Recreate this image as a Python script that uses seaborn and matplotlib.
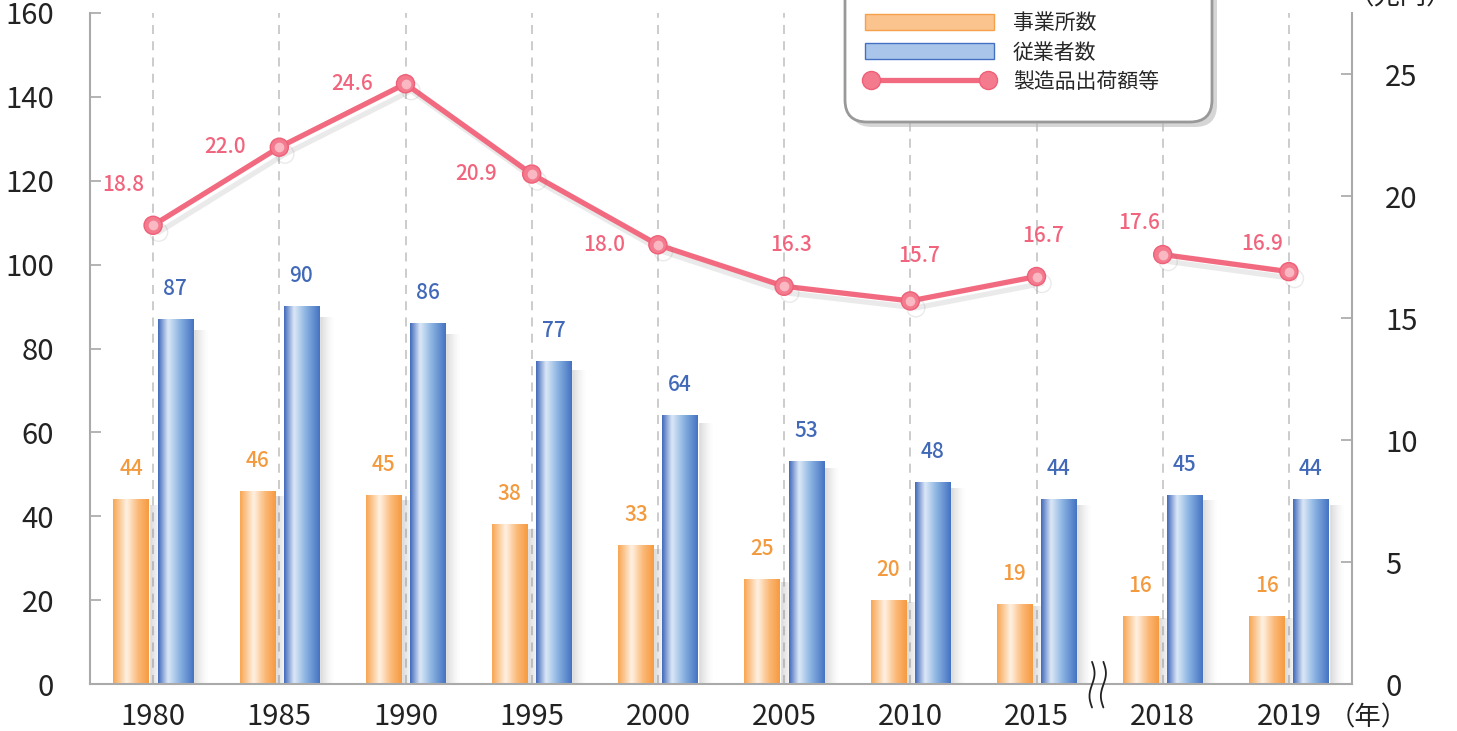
import numpy as np
import pandas as pd
import seaborn as sns
import matplotlib.pyplot as plt
import matplotlib.patheffects as pe
from matplotlib.colors import LinearSegmentedColormap
from matplotlib.patches import Patch, FancyBboxPatch
from matplotlib.lines import Line2D
import matplotlib.transforms as mtransforms

# data
years = ['1980', '1985', '1990', '1995', '2000', '2005', '2010', '2015', '2018', '2019']
establishments = [44, 46, 45, 38, 33, 25, 20, 19, 16, 16]   # 事業所数
employees = [87, 90, 86, 77, 64, 53, 48, 44, 45, 44]        # 従業者数
shipments = [18.8, 22.0, 24.6, 20.9, 18.0, 16.3, 15.7, 16.7, 17.6, 16.9]  # 製造品出荷額等 (兆円)
segment = ['a'] * 8 + ['b'] * 2   # line is broken between 2015 and 2018

series_names = ['事業所数', '従業者数', '製造品出荷額等']

# label offsets for the line values (pixels)
line_label_offsets = [(-30, 40), (-54, 0), (-53, 0), (-56, 0), (-54, 0),
                      (7, 41), (9, 45), (7, 41), (-24, 32), (-27, 28)]

orange = '#F7A04A'
blue = '#4470C2'
pink = '#F26A80'

sns.set_theme(style='white')
plt.rcParams['font.family'] = ['Noto Sans CJK JP', 'DejaVu Sans']

fig = plt.figure(figsize=(14.57, 7.31), dpi=100)
ax = fig.add_axes([90 / 1457, 1 - 684 / 731, (1352 - 90) / 1457, (684 - 13) / 731])

bar_df = pd.DataFrame({
    'year': years * 2,
    'value': establishments + employees,
    'series': [series_names[0]] * len(years) + [series_names[1]] * len(years),
})
sns.barplot(data=bar_df, x='year', y='value', hue='series', palette=[orange, blue],
            width=0.7, gap=0.2, saturation=1, legend=False, ax=ax, zorder=2)

# gradient fill on each bar + soft shadow on the right
cmaps = [
    LinearSegmentedColormap.from_list('o', [(0, '#F8A550'), (0.38, '#FFF1E3'), (0.7, '#FBB978'), (1, '#F79A40')]),
    LinearSegmentedColormap.from_list('b', [(0, '#4068BA'), (0.28, '#DCE8F7'), (0.6, '#8CB4E2'), (1, '#4472C2')]),
]
grad = np.linspace(0, 1, 256)[None, :]
shadow = np.zeros((1, 64, 4))
shadow[..., :3] = 0.45
shadow[..., 3] = np.linspace(0.45, 0, 64) ** 1.5
for cont, cmap in zip(ax.containers, cmaps):
    for p in cont:
        x0, w, h = p.get_x(), p.get_width(), p.get_height()
        ax.imshow(shadow, extent=(x0 + w, x0 + w + 0.12, 0, h * 0.97), aspect='auto',
                  interpolation='bicubic', zorder=1.5)
        ax.imshow(grad, extent=(x0, x0 + w, 0, h), aspect='auto', cmap=cmap,
                  interpolation='bicubic', zorder=2.5)

label_colors = ['#F39A3E', '#4169B8']
for cont, c in zip(ax.containers, label_colors):
    ax.bar_label(cont, padding=14, color=c, fontsize=15, fontweight='medium')

pos = np.arange(len(years))
ax.vlines(pos, 0, 160, colors='#c8c8c8', linestyles=(0, (5, 4)), linewidth=1.3, zorder=1)

ax.set_xlim(-0.5, 9.5)
ax.set_ylim(0, 160)
ax.set_yticks(range(0, 161, 20))
ax.set_xlabel('')
ax.set_ylabel('')
ax.tick_params(axis='y', direction='in', length=8, color='#aaaaaa', pad=26, labelsize=21, labelcolor='#222222')
ax.tick_params(axis='x', length=0, pad=13, labelsize=21, labelcolor='#222222')
for s in ['top', 'right']:
    ax.spines[s].set_visible(False)
for s in ['left', 'bottom']:
    ax.spines[s].set_color('#aaaaaa')
    ax.spines[s].set_linewidth(1.5)

# line on the right axis
ax2 = ax.twinx()
line_df = pd.DataFrame({'pos': pos, 'value': shipments, 'segment': segment})
sns.lineplot(data=line_df, x='pos', y='value', units='segment', estimator=None, color=pink,
             linewidth=3.8, marker='o', markersize=13, markerfacecolor='#F47A8E',
             markeredgecolor='#EE6078', markeredgewidth=1.0, ax=ax2, zorder=5,
             path_effects=[pe.SimpleLineShadow(offset=(4, -5), shadow_color='#777777', alpha=0.15), pe.Normal()])
ax2.plot(pos, shipments, 'o', ms=6, color='#FAB8C3', zorder=6)
for x, v, (dx, dy) in zip(pos, shipments, line_label_offsets):
    ax2.annotate(f'{v:.1f}', xy=(x, v), xytext=(dx, dy), textcoords='offset pixels',
                 ha='center', va='center', color='#F0657D', fontsize=15, fontweight='medium')

ax2.set_ylim(0, 27.5)
ax2.set_yticks(range(0, 26, 5))
ax2.set_xlim(-0.5, 9.5)
ax2.set_ylabel('')
ax2.set_xlabel('')
ax2.tick_params(axis='y', direction='in', length=8, color='#aaaaaa', pad=24, labelsize=21, labelcolor='#222222')
for s in ['top', 'left', 'bottom']:
    ax2.spines[s].set_visible(False)
ax2.spines['right'].set_color('#aaaaaa')
ax2.spines['right'].set_linewidth(1.5)

# axis break mark between 2015 and 2018
trans = mtransforms.blended_transform_factory(ax.transData, ax.transAxes)
t = np.linspace(0, 1, 50)
for xc in [7.44, 7.53]:
    ax.plot(xc + 0.02 * np.sin(t * 2 * np.pi), 0.033 - t * 0.068, color='#222222', lw=1.3,
            transform=trans, clip_on=False, zorder=6)

ax.annotate('（年）', xy=(9, 0), xycoords=('data', 'axes fraction'), xytext=(40, -34),
            textcoords='offset pixels', ha='left', va='center', fontsize=19, color='#222222')
fig.text(1400 / 1457, 1 - 10 / 731, '（兆円）', ha='center', va='bottom', fontsize=19, color='#222222')

# legend box (top runs off the figure, as in the original)
box_kw = dict(boxstyle='round,pad=0,rounding_size=0.22', transform=fig.dpi_scale_trans)
fig.add_artist(FancyBboxPatch((8.50, 7.31 - 1.27), 3.67, 1.8, facecolor='#bbbbbb', edgecolor='none',
                              alpha=0.6, zorder=3, **box_kw))
fig.add_artist(FancyBboxPatch((8.45, 7.31 - 1.22), 3.67, 1.8, facecolor='white', edgecolor='#999999',
                              linewidth=2, zorder=4, **box_kw))

handles = [Patch(facecolor='#FBC48E', edgecolor=orange), Patch(facecolor='#A9C6EA', edgecolor=blue),
           Line2D([0], [0], color=pink, lw=3.8, marker='o', ms=13, markerfacecolor='#F47A8E', markeredgecolor='#EE6078')]
leg = fig.legend(handles, series_names, loc='upper left', bbox_to_anchor=(865 / 1457, 1 - 12 / 731),
                 fontsize=15, handlelength=6.2, handleheight=0.8, handletextpad=0.9,
                 labelspacing=0.36, borderpad=0, borderaxespad=0, numpoints=2, frameon=False)
leg.set_zorder(5)

fig.savefig('out.png', dpi=100)
